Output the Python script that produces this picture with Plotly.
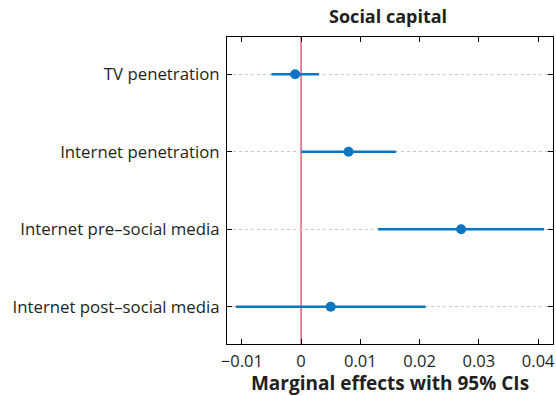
import plotly.graph_objects as go

# Marginal effects (point estimate and 95% CI bounds)
categories = ["TV penetration", "Internet penetration",
              "Internet pre\u2013social media", "Internet post\u2013social media"]
estimates = [-0.001, 0.008, 0.027, 0.005]
ci_low = [-0.005, 0.000, 0.013, -0.011]
ci_high = [0.003, 0.016, 0.041, 0.021]

x_tickvals = [-0.01, 0, 0.01, 0.02, 0.03, 0.04]
x_ticktext = ["\u22120.01", "0", "0.01", "0.02", "0.03", "0.04"]

BLUE = "#0a76c2"
FONT = "Open Sans"

err_plus = [h - e for h, e in zip(ci_high, estimates)]
err_minus = [e - l for e, l in zip(estimates, ci_low)]

fig = go.Figure()
fig.add_trace(go.Scatter(
    x=estimates, y=categories, mode="markers",
    marker=dict(color=BLUE, size=10),
    error_x=dict(type="data", array=err_plus, arrayminus=err_minus,
                 color=BLUE, thickness=2.6, width=0, symmetric=False),
    showlegend=False, hoverinfo="skip",
))

fig.add_shape(type="line", xref="x", yref="paper", x0=0, x1=0, y0=0, y1=1,
              line=dict(color="#d9627a", width=1.5), layer="below")

fig.update_layout(
    width=556, height=396,
    margin=dict(l=227, r=1, t=37, b=52),
    paper_bgcolor="white", plot_bgcolor="white",
    font=dict(family=FONT, size=16, color="#231f20"),
    title=dict(text="<b>Social capital</b>", x=0.698, xanchor="center",
               y=0.957, yanchor="middle", font=dict(size=18, family=FONT)),
)
fig.update_xaxes(
    range=[-0.0125, 0.0425], tickvals=x_tickvals, ticktext=x_ticktext,
    ticks="inside", ticklen=5, tickcolor="black", showline=True,
    linecolor="black", linewidth=1, mirror="ticks", showgrid=False,
    zeroline=False, tickfont=dict(size=16.5), ticklabeloverflow="allow",
    ticklabelstandoff=2,
    title=dict(text="<b>Marginal effects with 95% CIs</b>",
               font=dict(size=19), standoff=6),
)
fig.update_yaxes(
    categoryorder="array", categoryarray=categories[::-1],
    range=[-0.48, 3.48], ticks="inside", ticklen=5, tickcolor="black",
    showline=True, linecolor="black", linewidth=1, mirror="ticks",
    showgrid=True, gridcolor="#c8c8c8", griddash="dot", gridwidth=1,
    zeroline=False, tickfont=dict(size=16.8), ticklabelstandoff=3,
)

fig.write_html("out.html")
